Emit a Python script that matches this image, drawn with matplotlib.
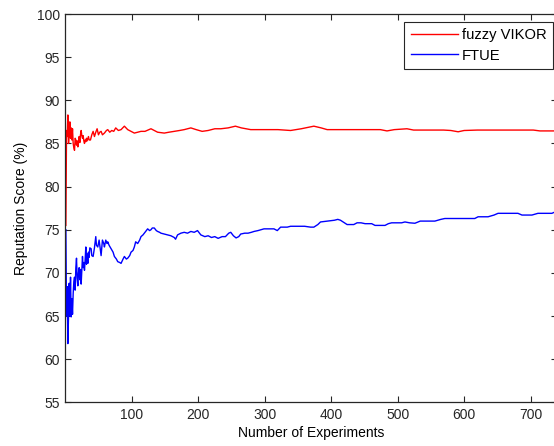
import matplotlib
matplotlib.use("Agg")
import matplotlib.pyplot as plt

plt.rcParams['font.family'] = ['Liberation Sans', 'DejaVu Sans']
plt.rcParams['font.size'] = 10

# fuzzy VIKOR reputation score per experiment
vikor_x = [1, 2, 3, 4, 5, 6, 7, 8, 9, 10, 11, 12, 13, 14, 15, 16, 17, 18, 19, 20,
           21, 22, 23, 24, 25, 26, 27, 28, 29, 30, 31, 32, 33, 35, 36, 38, 40, 42, 44, 46,
           48, 50, 52, 54, 56, 59, 62, 64, 67, 70, 73, 76, 80, 84, 89, 94, 99, 104, 109, 114,
           120, 129, 134, 139, 149, 156, 164, 172, 179, 189, 197, 206, 215, 225, 234, 245, 256, 265, 279, 290,
           304, 320, 339, 355, 374, 385, 394, 410, 424, 434, 455, 474, 484, 495, 514, 524, 545, 569, 580, 591,
           600, 620, 650, 680, 704, 714, 735]
vikor_y = [75.5, 86.5, 85.8, 88.3, 85.0, 86.2, 87.5, 85.6, 86.8, 85.4, 86.7, 85.0, 84.5, 84.2, 85.6, 85.4, 84.8, 85.3, 84.6, 85.2,
           85.8, 85.1, 86.0, 86.5, 85.9, 85.6, 85.9, 85.3, 85.0, 85.4, 85.2, 85.6, 85.3, 85.8, 85.4, 85.4, 86.0, 86.4, 85.8, 86.3,
           86.7, 86.0, 86.3, 86.4, 86.0, 86.2, 86.5, 86.6, 86.3, 86.5, 86.4, 86.8, 86.5, 86.6, 87.0, 86.6, 86.4, 86.2, 86.3, 86.4,
           86.4, 86.7, 86.5, 86.3, 86.2, 86.3, 86.4, 86.5, 86.6, 86.8, 86.6, 86.4, 86.5, 86.7, 86.7, 86.8, 87.0, 86.8, 86.6, 86.6,
           86.6, 86.6, 86.5, 86.7, 87.0, 86.8, 86.6, 86.6, 86.6, 86.6, 86.6, 86.6, 86.45, 86.6, 86.7, 86.55, 86.55, 86.55, 86.5, 86.35,
           86.5, 86.55, 86.55, 86.55, 86.55, 86.45, 86.45]

# FTUE reputation score per experiment
ftue_x = [1, 2, 3, 4, 5, 6, 7, 8, 9, 10, 11, 12, 13, 14, 15, 16, 17, 18, 19, 20,
          21, 22, 23, 24, 25, 26, 27, 28, 29, 30, 31, 32, 33, 34, 35, 36, 37, 39, 40, 42,
          44, 46, 47, 49, 51, 53, 54, 56, 58, 59, 61, 63, 64, 66, 69, 72, 74, 77, 79, 82,
          84, 87, 89, 92, 94, 97, 99, 102, 104, 106, 109, 112, 114, 117, 119, 122, 124, 127, 129, 131,
          134, 137, 139, 142, 144, 149, 154, 159, 164, 166, 169, 174, 179, 184, 189, 194, 199, 204, 210, 215,
          220, 225, 230, 236, 241, 246, 249, 253, 257, 261, 264, 270, 275, 280, 284, 290, 299, 306, 314, 319,
          324, 334, 339, 350, 360, 369, 374, 380, 384, 395, 405, 410, 414, 420, 424, 434, 439, 445, 451, 461,
          466, 475, 481, 486, 491, 506, 511, 518, 526, 534, 545, 556, 565, 571, 590, 605, 616, 621, 636, 645,
          651, 665, 681, 687, 702, 711, 722, 732, 735]
ftue_y = [75.0, 65.0, 68.4, 61.8, 65.0, 68.8, 65.0, 69.5, 64.9, 67.0, 65.2, 67.6, 69.0, 69.5, 68.0, 70.6, 71.7, 69.4, 68.5, 70.0,
          70.6, 69.2, 70.4, 68.7, 70.2, 71.9, 70.6, 71.2, 70.3, 71.5, 73.0, 71.0, 72.2, 71.1, 72.4, 71.8, 72.9, 72.8, 72.0, 71.9,
          72.9, 74.2, 73.2, 73.0, 73.8, 72.6, 72.0, 73.8, 73.4, 73.0, 73.8, 73.4, 73.6, 73.2, 72.8, 72.4, 71.9, 71.6, 71.3, 71.2,
          71.1, 71.6, 71.9, 71.6, 71.7, 72.0, 72.4, 72.6, 73.0, 73.6, 73.4, 73.8, 74.2, 74.4, 74.6, 74.9, 75.1, 74.9, 75.0, 75.2,
          75.2, 74.9, 74.8, 74.7, 74.6, 74.5, 74.4, 74.3, 74.1, 73.9, 74.4, 74.6, 74.7, 74.6, 74.8, 74.7, 74.9, 74.4, 74.2, 74.3,
          74.1, 74.2, 74.0, 74.2, 74.2, 74.6, 74.7, 74.3, 74.05, 74.2, 74.5, 74.6, 74.6, 74.7, 74.8, 74.9, 75.1, 75.1, 75.1, 74.9,
          75.3, 75.3, 75.4, 75.4, 75.4, 75.3, 75.3, 75.6, 75.9, 76.0, 76.1, 76.2, 76.1, 75.8, 75.6, 75.6, 75.8, 75.8, 75.7, 75.7,
          75.5, 75.5, 75.5, 75.7, 75.8, 75.8, 75.9, 75.8, 75.75, 76.0, 76.0, 76.0, 76.2, 76.3, 76.3, 76.3, 76.3, 76.5, 76.5, 76.7,
          76.9, 76.9, 76.9, 76.7, 76.7, 76.9, 76.9, 76.9, 77.0]

x_ticks = [100, 200, 300, 400, 500, 600, 700]
y_ticks = [55, 60, 65, 70, 75, 80, 85, 90, 95, 100]

W, H = 554, 446
fig = plt.figure(figsize=(W / 100, H / 100), dpi=100)
ax = fig.add_axes([65.2 / W, (H - 402.3) / H, 492.0 / W, 388.3 / H])

ax.plot(vikor_x, vikor_y, color='#ff0000', lw=1.0, label='fuzzy VIKOR')
ax.plot(ftue_x, ftue_y, color='#0000ff', lw=1.0, label='FTUE')

ax.set_xlim(0, 740)
ax.set_ylim(55, 100)
ax.set_xticks(x_ticks)
ax.set_yticks(y_ticks)
ax.tick_params(direction='in', length=4, width=0.8, top=True, right=True,
               labelsize=10, colors='#262626', pad=4)
for s in ax.spines.values():
    s.set_linewidth(0.9)
    s.set_color('#262626')

ax.set_xlabel('Number of Experiments', fontsize=10, labelpad=3)
ax.set_ylabel('Reputation Score (%)', fontsize=10, labelpad=6)

leg = ax.legend(loc='upper right', bbox_to_anchor=(553 / W, 1 - 21.7 / H),
                bbox_transform=fig.transFigure, borderaxespad=0,
                fancybox=False, shadow=False, framealpha=1, edgecolor='#262626',
                handlelength=3.2, handletextpad=0.3, labelspacing=0.45,
                borderpad=0.42, fontsize=10.6)
leg.get_frame().set_linewidth(0.8)

fig.savefig('out.png', dpi=100)
